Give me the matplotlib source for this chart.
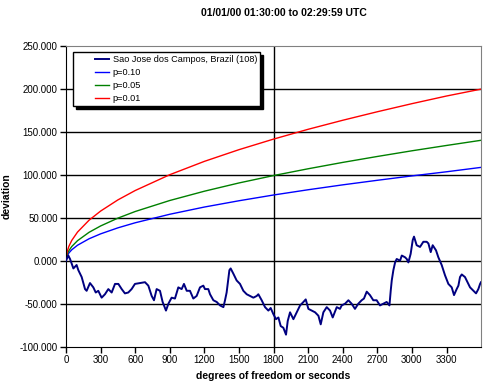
import numpy as np
import matplotlib
matplotlib.use("Agg")
import matplotlib.pyplot as plt
from matplotlib.legend_handler import HandlerLine2D

plt.rcParams['font.family'] = ['Liberation Sans', 'DejaVu Sans']

title = "01/01/00 01:30:00 to 02:29:59 UTC"
series_name = "Sao Jose dos Campos, Brazil (108)"

# cumulative deviation
walk_t = [0, 20, 35, 64, 92, 107, 136, 165, 179, 208, 237, 258, 280, 309, 338, 367,
          396, 425, 454, 483, 511, 540, 569, 598, 642, 685, 714, 743, 763, 786, 815,
          838, 867, 888, 916, 945, 974, 1003, 1023, 1047, 1075, 1104, 1133,
          1162, 1191, 1205, 1234, 1249, 1278, 1307, 1336, 1365, 1379, 1393, 1417,
          1428, 1451, 1480, 1509, 1538, 1567, 1596, 1625, 1654, 1668, 1697, 1726,
          1755, 1775, 1798, 1821, 1842, 1862, 1885, 1908, 1923, 1943, 1972, 2001,
          2030, 2059, 2079, 2102, 2131, 2160, 2189, 2209, 2232, 2261, 2290, 2313,
          2348, 2376, 2391, 2420, 2449, 2477, 2506, 2535, 2564, 2584, 2608, 2636,
          2665, 2694, 2723, 2752, 2781, 2805, 2816, 2825, 2839, 2854, 2868, 2897,
          2912, 2940, 2955, 2969, 2989, 3007, 3018, 3041, 3070, 3099, 3128, 3143,
          3163, 3180, 3209, 3229, 3258, 3287, 3316, 3345, 3365, 3388, 3403, 3417,
          3432, 3460, 3475, 3504, 3533, 3556, 3576, 3591, 3599]
walk_v = [0, 6, 2, -9, -5, -11, -19, -33, -35, -26, -31, -37, -35, -43, -39, -33,
          -37, -27, -27, -33, -38, -37, -33, -27, -26, -25, -29, -41, -46, -33, -35,
          -48, -58, -50, -43, -44, -31, -33, -27, -35, -35, -44, -41,
          -31, -29, -33, -33, -39, -46, -48, -52, -54, -46, -37, -11,
          -9, -15, -23, -27, -35, -39, -41, -43, -41, -39, -46, -54,
          -58, -55, -62, -68, -66, -76, -78, -86, -70, -60, -68, -60,
          -52, -48, -45, -56, -58, -60, -64, -74, -60, -54, -58, -66,
          -54, -56, -52, -50, -46, -50, -56, -50, -46, -44, -36, -40,
          -46, -46, -52, -50, -48, -52, -35, -23, -11, -2, 2, 0,
          6, 4, 2, -2, 8, 24, 28, 18, 16, 22, 22, 20,
          10, 18, 12, 4, -5, -17, -27, -31, -40, -33, -29, -19,
          -16, -19, -23, -31, -35, -38, -33, -27, -25]

# significance envelopes
env_t = [0, 10, 25, 50, 100, 200, 300, 450, 600, 900, 1200, 1500, 1800, 2100,
         2400, 2700, 3000, 3300, 3599]
p10 = [0, 5.5, 9, 12.7, 18, 25.5, 31.2, 38.2, 44.1, 54, 62.4, 69.7, 76.4, 82.5,
       88.2, 93.5, 98.6, 103.4, 108.5]
p05 = [0, 7.5, 11.7, 16.5, 23.3, 33, 40.4, 49.5, 57.2, 70, 80.8, 90.4, 99, 106.9,
       114.3, 121.2, 127.8, 134, 140]
p01 = [0, 10.5, 16.7, 23.6, 33.3, 47.1, 57.7, 70.7, 81.6, 100, 115.5, 129.1, 141.4,
       152.8, 163.3, 173.2, 182.6, 191.5, 199.5]


class RightLine(HandlerLine2D):
    # legend line only in the right part of the handle box, like Excel
    def create_artists(self, legend, orig_handle, xdescent, ydescent, width,
                       height, fontsize, trans):
        arts = super().create_artists(legend, orig_handle, xdescent, ydescent,
                                      width, height, fontsize, trans)
        yy = arts[0].get_ydata()[0]
        arts[0].set_data([width * 0.57 - xdescent, width - xdescent], [yy, yy])
        return arts


fig = plt.figure(figsize=(4.87, 3.84), dpi=100)
ax = fig.add_axes([66/487, 1-346.7/384, 415/487, 301/384])

for yv in range(-50, 250, 50):
    ax.axhline(yv, color='black', lw=1, zorder=1)
ax.axvline(1800, color='black', lw=1, zorder=1)

ax.plot(walk_t, walk_v, color='#000080', lw=1.4, label=series_name, zorder=3)
ax.plot(env_t, p10, color='#0000FF', lw=1, label='p=0.10', zorder=2)
ax.plot(env_t, p05, color='#008000', lw=1, label='p=0.05', zorder=2)
ax.plot(env_t, p01, color='#FF0000', lw=1, label='p=0.01', zorder=2)

ax.set_xlim(0, 3599)
ax.set_ylim(-100, 250)
ax.set_xticks(np.arange(0, 3301, 300))
ax.set_yticks(np.arange(-100, 251, 50))
ax.set_yticklabels([f"{v:.3f}" for v in np.arange(-100, 251, 50)])
ax.tick_params(labelsize=7, length=4, width=1, color='black', pad=2)
for s in ['top', 'right']:
    ax.spines[s].set_color('#808080')
for s in ['left', 'bottom']:
    ax.spines[s].set_color('black')

ax.set_xlabel("degrees of freedom or seconds", fontsize=7.5, fontweight='bold', labelpad=4)
ax.set_ylabel("deviation", fontsize=7.5, fontweight='bold', labelpad=6)
fig.text(284/487, 1-13/384, title, fontsize=7.5, fontweight='bold', ha='center', va='center')

leg = ax.legend(loc='upper left', bbox_to_anchor=(7/415, 1-6.5/301), fontsize=6.6,
                frameon=True, fancybox=False, handlelength=3.6, handletextpad=0.4,
                borderpad=0.35, labelspacing=0.42, borderaxespad=0,
                handler_map={plt.Line2D: RightLine()},
                shadow={'color': 'black', 'alpha': 1})
leg.get_frame().set_edgecolor('black')
leg.get_frame().set_linewidth(1)
leg.get_frame().set_alpha(1)

fig.savefig("out.png", dpi=100)
